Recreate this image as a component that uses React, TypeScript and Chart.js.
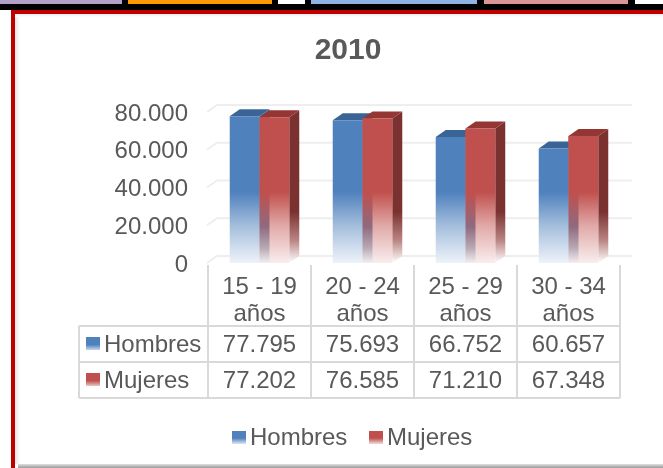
import React, { useEffect, useRef } from "react";
import { Chart, registerables } from "chart.js";

Chart.register(...registerables);

const title = "2010";
const categories = [["15 - 19", "años"], ["20 - 24", "años"], ["25 - 29", "años"], ["30 - 34", "años"]];
const hombres = [77795, 75693, 66752, 60657];
const mujeres = [77202, 76585, 71210, 67348];
const tickValues = [0, 20000, 40000, 60000, 80000];

const TEXT = "#595959";
const GRID = "#eeeeee";
const TABLE = "#d9d9d9";
const FONT = '"Liberation Sans", Arial, sans-serif';
const DX = 10;
const DY = 7;

const fmt = (v: number) => String(v).replace(/\B(?=(\d{3})+(?!\d))/g, ".");

function vGrad(ctx: CanvasRenderingContext2D, y0: number, y1: number, stops: [number, string][]) {
  const g = ctx.createLinearGradient(0, y0, 0, y1);
  stops.forEach(([o, c]) => g.addColorStop(o, c));
  return g;
}

function frontGradient(chart: any, solid: string, mid: string, pale: string) {
  const { ctx, chartArea } = chart;
  if (!chartArea) return solid;
  return vGrad(ctx, chartArea.top, chartArea.bottom, [
    [0, solid],
    [0.53, solid],
    [0.75, mid],
    [1, pale],
  ]);
}

const palette = [
  { top: "#3A6495", side: "#3A6495", front: "#4F81BD" },
  { top: "#943634", side: "#7A312F", front: "#C0504D" },
];

const swatches = [
  ["#4F81BD", "#dfe8f3"],
  ["#C0504D", "#f2dcdb"],
];

const scene3d = {
  id: "scene3d",
  beforeDatasetsDraw(chart: any) {
    const { ctx, chartArea, scales } = chart;
    const { left, right, bottom, top } = chartArea;
    ctx.save();
    ctx.strokeStyle = GRID;
    ctx.lineWidth = 2;
    scales.y.ticks.forEach((t: any) => {
      const y = scales.y.getPixelForValue(t.value);
      ctx.beginPath();
      ctx.moveTo(left - 1, y);
      ctx.lineTo(left + DX - 1, y - DY);
      ctx.lineTo(right + 12, y - DY);
      ctx.stroke();
    });
    [0, 1].forEach((di) => {
      const meta = chart.getDatasetMeta(di);
      const p = palette[di];
      meta.data.forEach((bar: any) => {
        const x0 = bar.x - bar.width / 2;
        const x1 = bar.x + bar.width / 2;
        const y = bar.y;
        const b = bar.base;
        ctx.fillStyle = vGrad(ctx, top, bottom, [
          [0, p.side],
          [0.66, p.side],
          [0.85, di ? "#b98583" : "#9db4d0"],
          [1, "#ffffff"],
        ]);
        ctx.beginPath();
        ctx.moveTo(x1, y);
        ctx.lineTo(x1 + DX, y - DY);
        ctx.lineTo(x1 + DX, b - DY);
        ctx.lineTo(x1, b);
        ctx.closePath();
        ctx.fill();
        ctx.fillStyle = p.top;
        ctx.beginPath();
        ctx.moveTo(x0, y);
        ctx.lineTo(x0 + DX, y - DY);
        ctx.lineTo(x1 + DX, y - DY);
        ctx.lineTo(x1, y);
        ctx.closePath();
        ctx.fill();
      });
    });
    ctx.restore();
  },
  afterDatasetsDraw(chart: any) {
    const { ctx, chartArea } = chart;
    const { top, bottom } = chartArea;
    ctx.save();
    chart.getDatasetMeta(1).data.forEach((bar: any) => {
      const x0 = bar.x - bar.width / 2;
      ctx.fillStyle = vGrad(ctx, top, bottom, [
        [0, "#C0504D"],
        [0.53, "#C0504D"],
        [0.76, "#8f6a80"],
        [0.9, "#b8a9b4"],
        [1, "#f3eef1"],
      ]);
      ctx.fillRect(x0, bar.y, DX, bar.base - bar.y);
    });
    ctx.restore();
  },
};

const dataTable = {
  id: "dataTable",
  afterDraw(chart: any) {
    const { ctx, chartArea, scales } = chart;
    const { bottom } = chartArea;
    const step = scales.x.getPixelForValue(1) - scales.x.getPixelForValue(0);
    const rowYs = [326, 362, 398];
    const tableLeft = 79;
    const tableRight = scales.x.getPixelForValue(categories.length - 1) + step / 2;
    ctx.save();
    ctx.strokeStyle = TABLE;
    ctx.lineWidth = 2;
    rowYs.forEach((y) => {
      ctx.beginPath();
      ctx.moveTo(tableLeft, y);
      ctx.lineTo(tableRight, y);
      ctx.stroke();
    });
    ctx.beginPath();
    ctx.moveTo(tableLeft, rowYs[0]);
    ctx.lineTo(tableLeft, rowYs[2]);
    ctx.stroke();
    categories.forEach((_, i) => {
      const x = scales.x.getPixelForValue(i) - step / 2;
      ctx.beginPath();
      ctx.moveTo(x, bottom + 2);
      ctx.lineTo(x, rowYs[2]);
      ctx.stroke();
    });
    ctx.beginPath();
    ctx.moveTo(tableRight, bottom + 2);
    ctx.lineTo(tableRight, rowYs[2]);
    ctx.stroke();

    ctx.font = `24px ${FONT}`;
    ctx.textBaseline = "middle";
    chart.data.datasets.forEach((ds: any, di: number) => {
      const y = (rowYs[di] + rowYs[di + 1]) / 2 + 1;
      ctx.fillStyle = vGrad(ctx, y - 8, y + 6, [[0, swatches[di][0]], [0.55, swatches[di][0]], [1, swatches[di][1]]]);
      ctx.fillRect(86, y - 8, 14, 13);
      ctx.fillStyle = TEXT;
      ctx.textAlign = "left";
      ctx.fillText(ds.label, 104, y);
      ctx.textAlign = "center";
      ds.data.forEach((v: number, i: number) => {
        ctx.fillText(fmt(v), scales.x.getPixelForValue(i), y);
      });
    });

    const legendY = 438;
    const legendX = [232, 369];
    chart.data.datasets.forEach((ds: any, di: number) => {
      const x = legendX[di];
      ctx.fillStyle = vGrad(ctx, legendY - 7, legendY + 6, [[0, swatches[di][0]], [0.55, swatches[di][0]], [1, swatches[di][1]]]);
      ctx.fillRect(x, legendY - 7, 14, 13);
      ctx.fillStyle = TEXT;
      ctx.textAlign = "left";
      ctx.fillText(ds.label, x + 18, legendY);
    });
    ctx.restore();
  },
};

const box = (style: React.CSSProperties) => <div style={{ position: "absolute", ...style }} />;

export default function App() {
  const ref = useRef<HTMLCanvasElement>(null);

  useEffect(() => {
    const canvas = ref.current;
    if (!canvas) return;
    const chart = new Chart(canvas, {
      type: "bar",
      data: {
        labels: categories,
        datasets: [
          {
            label: "Hombres",
            data: hombres,
            backgroundColor: (c: any) => frontGradient(c.chart, "#4F81BD", "#a3bddc", "#eef3f9"),
            barPercentage: 1,
            categoryPercentage: 0.578,
          },
          {
            label: "Mujeres",
            data: mujeres,
            backgroundColor: (c: any) => frontGradient(c.chart, "#C0504D", "#e0a8a6", "#f9eeee"),
            barPercentage: 1,
            categoryPercentage: 0.578,
          },
        ],
      },
      options: {
        responsive: false,
        animation: false,
        devicePixelRatio: 1,
        layout: { padding: { top: 0, left: 76, right: 43, bottom: 0 } },
        plugins: {
          legend: { display: false },
          tooltip: { enabled: false },
          title: {
            display: true,
            text: title,
            color: TEXT,
            font: { family: FONT, size: 30, weight: "bold", lineHeight: 1.2 },
            padding: { top: 33, bottom: 43 },
          },
        },
        scales: {
          x: {
            afterFit(s: any) { s.height = 205; },
            border: { display: false },
            grid: { display: false },
            ticks: {
              color: TEXT,
              font: { family: FONT, size: 24, lineHeight: 1.12 },
              padding: 3,
              maxRotation: 0,
              autoSkip: false,
            },
          },
          y: {
            min: 0,
            max: 80000,
            afterFit(s: any) { s.width = 132; },
            afterBuildTicks(s: any) { s.ticks = tickValues.map((value) => ({ value })); },
            border: { display: false },
            grid: { display: false },
            ticks: {
              color: TEXT,
              font: { family: FONT, size: 24 },
              padding: 12,
              labelOffset: 2,
              callback: (v: any) => fmt(Number(v)),
            },
          },
        },
      } as any,
      plugins: [scene3d, dataTable],
    });
    return () => chart.destroy();
  }, []);

  return (
    <div style={{ position: "fixed", left: 0, top: 0, width: 663, height: 468, overflow: "hidden", background: "#fff", filter: "blur(0.4px)" }}>
      {box({ left: 0, top: 0, width: 663, height: 10, background: "#000" })}
      {box({ left: 0, top: 0, width: 122, height: 4, background: "#B1A0C7" })}
      {box({ left: 128, top: 0, width: 144, height: 4, background: "#FF9900" })}
      {box({ left: 278, top: 0, width: 27, height: 4, background: "#fff" })}
      {box({ left: 311, top: 0, width: 166, height: 4, background: "#8DB4E2" })}
      {box({ left: 484, top: 0, width: 144, height: 4, background: "#DA9694" })}
      {box({ left: 635, top: 0, width: 28, height: 4, background: "#fff" })}
      {box({ left: 11, top: 10, width: 652, height: 4, background: "#C00000" })}
      {box({ left: 11, top: 10, width: 4, height: 458, background: "#C00000" })}
      {box({ left: 15, top: 14, width: 5, height: 450, background: "linear-gradient(90deg,#e4e4e4,#ffffff)" })}
      {box({ left: 15, top: 14, width: 648, height: 3, background: "linear-gradient(180deg,#ececec,#ffffff)" })}
      {box({ left: 18, top: 464, width: 645, height: 4, background: "linear-gradient(180deg,#e0e0e0,#9a9a9a)" })}
      <canvas ref={ref} width={663} height={468} style={{ position: "absolute", left: 0, top: 0, display: "block" }} />
    </div>
  );
}
